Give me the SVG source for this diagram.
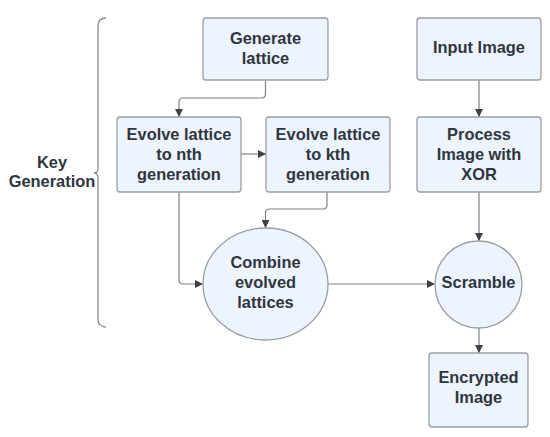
<svg xmlns="http://www.w3.org/2000/svg" width="550" height="437" viewBox="0 0 550 437">
<style>
.n{fill:#edf4fd;stroke:#9b9ea3;stroke-width:1.3}
.t{font-family:"Liberation Sans",Arial,sans-serif;font-weight:bold;font-size:16.4px;fill:#2f3640;text-anchor:middle}
.c{fill:none;stroke:#7d8085;stroke-width:1.2}
</style>
<defs>
<marker id="a" viewBox="0 0 10 10" refX="10" refY="5" markerWidth="8" markerHeight="8" markerUnits="userSpaceOnUse" orient="auto">
<path d="M0,0 L10,5 L0,10 z" fill="#3d4148"/>
</marker>
</defs>
<rect width="550" height="437" fill="#fff"/>
<g id="keygen">
<path d="M106,18 Q98,18 98,26 L98,168 Q98,173 94,173 Q98,173 98,178 L98,319 Q98,327 106,327" fill="none" stroke="#8a8d91" stroke-width="1.3"/>
<text class="t" x="52" y="168">Key</text>
<text class="t" x="52" y="187">Generation</text>
</g>
<g id="connectors">
<path class="c" d="M265.5,80 L265.5,94 Q265.5,98 261.5,98 L183,98 Q179,98 179,102 L179,117" marker-end="url(#a)"/>
<path class="c" d="M241,154 L266,154" marker-end="url(#a)"/>
<path class="c" d="M327,192 L327,205 Q327,209 323,209 L269.5,209 Q265.5,209 265.5,213 L265.5,228" marker-end="url(#a)"/>
<path class="c" d="M179,192 L179,280 Q179,284 183,284 L203,284" marker-end="url(#a)"/>
<path class="c" d="M328,284 L435,284" marker-end="url(#a)"/>
<path class="c" d="M479,80 L479,117" marker-end="url(#a)"/>
<path class="c" d="M479,192 L479,241" marker-end="url(#a)"/>
<path class="c" d="M479,328 L479,353" marker-end="url(#a)"/>
</g>
<g id="generate">
<rect class="n" x="203" y="18" width="125" height="62" rx="3"/>
<text class="t" x="265.5" y="44">Generate</text>
<text class="t" x="265.5" y="64">lattice</text>
</g>
<g id="input">
<rect class="n" x="417" y="18" width="124" height="62" rx="3"/>
<text class="t" x="479" y="53">Input Image</text>
</g>
<g id="evolveN">
<rect class="n" x="117" y="117" width="124" height="75" rx="3"/>
<text class="t" x="179" y="140">Evolve lattice</text>
<text class="t" x="179" y="160">to nth</text>
<text class="t" x="179" y="180">generation</text>
</g>
<g id="evolveK">
<rect class="n" x="266" y="117" width="124" height="75" rx="3"/>
<text class="t" x="328" y="140">Evolve lattice</text>
<text class="t" x="328" y="160">to kth</text>
<text class="t" x="328" y="180">generation</text>
</g>
<g id="process">
<rect class="n" x="417" y="117" width="124" height="75" rx="3"/>
<text class="t" x="479" y="140">Process</text>
<text class="t" x="479" y="160">Image with</text>
<text class="t" x="479" y="180">XOR</text>
</g>
<g id="combine">
<ellipse class="n" cx="265.5" cy="284" rx="62.5" ry="56"/>
<text class="t" x="265.5" y="268">Combine</text>
<text class="t" x="265.5" y="288">evolved</text>
<text class="t" x="265.5" y="308">lattices</text>
</g>
<g id="scramble">
<circle class="n" cx="478.5" cy="284.5" r="43.5"/>
<text class="t" x="478.5" y="288">Scramble</text>
</g>
<g id="encrypted">
<rect class="n" x="429" y="353" width="99" height="74" rx="3"/>
<text class="t" x="478.5" y="383">Encrypted</text>
<text class="t" x="478.5" y="403">Image</text>
</g>
</svg>
